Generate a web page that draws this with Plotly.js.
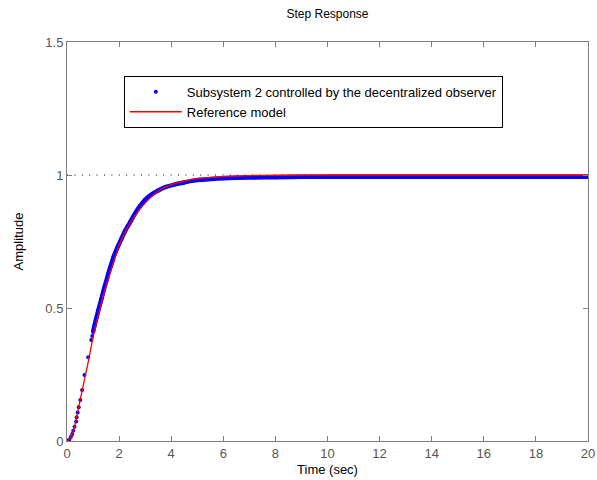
<!DOCTYPE html>
<html>
<head>
<meta charset="utf-8">
<script src="https://cdn.plot.ly/plotly-3.0.1.min.js"></script>
<style>html,body{margin:0;padding:0;background:#fff;}#chart{width:597px;height:480px;}</style>
</head>
<body>
<div id="chart"></div>
<script>
// Reference model (red line)
var refTime = [0, 0.1, 0.2, 0.3, 0.4, 0.5, 0.6, 0.7, 0.8, 0.9, 1.0, 1.2, 1.4, 1.6, 1.8, 2.0, 2.25, 2.5, 2.75, 3.0, 3.5, 4.0, 4.5, 5.0, 5.5, 6.0, 7.0, 8.0, 10, 12, 14, 16, 18, 20];
var refAmp  = [0, 0.008, 0.028, 0.058, 0.105, 0.152, 0.198, 0.245, 0.29, 0.34, 0.39, 0.47, 0.55, 0.615, 0.675, 0.735, 0.79, 0.83, 0.866, 0.895, 0.94, 0.964, 0.977, 0.986, 0.991, 0.995, 0.998, 0.999, 1.0, 1.0, 1.0, 1.0, 1.0, 1.0];

// Subsystem 2 controlled by the decentralized observer (blue dots)
var subTime = [0, 0.04, 0.09, 0.15, 0.2, 0.24, 0.29, 0.35, 0.37, 0.41, 0.45, 0.51, 0.58, 0.67, 0.81, 0.93, 0.97, 1.0, 1.07, 1.14, 1.2, 1.27, 1.33, 1.39, 1.46, 1.52, 1.59, 1.65, 1.72, 1.78, 1.84, 1.97, 2.1, 2.23, 2.42, 2.61, 2.8, 2.99, 3.25, 3.5, 3.8, 4.15, 4.5, 4.79, 5.1, 5.55, 6.0, 6.45, 7.2, 8, 9, 10, 12, 14, 16, 18, 20];
var subAmp  = [0, 0.001, 0.006, 0.016, 0.026, 0.039, 0.054, 0.073, 0.089, 0.107, 0.127, 0.154, 0.192, 0.248, 0.315, 0.38, 0.395, 0.41, 0.44, 0.467, 0.49, 0.515, 0.537, 0.56, 0.585, 0.605, 0.63, 0.65, 0.67, 0.69, 0.705, 0.735, 0.762, 0.79, 0.822, 0.855, 0.883, 0.906, 0.927, 0.942, 0.955, 0.965, 0.972, 0.978, 0.982, 0.985, 0.988, 0.99, 0.991, 0.992, 0.993, 0.993, 0.993, 0.993, 0.993, 0.993, 0.993];

// Steady-state reference line
var steadyTime = [0, 20];
var steadyAmp = [1, 1];

var xTicks = [0, 2, 4, 6, 8, 10, 12, 14, 16, 18, 20];
var yTicks = [0, 0.5, 1, 1.5];
var yTickText = ['0', '0.5', '1', '1.5'];

var denseT = [], denseY = [];
for (var i = 0; i < subTime.length; i++) {
  if (subTime[i] >= 1.0) { denseT.push(subTime[i]); denseY.push(subAmp[i]); }
}

var FONT = '"Liberation Sans", Arial, Helvetica, sans-serif';

var traces = [
  {x: steadyTime, y: steadyAmp, mode: 'lines', line: {color: '#000', width: 1, dash: '1px,6.4px'}, showlegend: false, hoverinfo: 'skip'},
  {x: denseT, y: denseY, mode: 'lines', line: {color: '#0000ff', width: 4.5, shape: 'spline', smoothing: 0.8}, showlegend: false, hoverinfo: 'skip'},
  {x: subTime, y: subAmp, mode: 'markers', marker: {color: '#0000ff', size: 4}, name: 'Subsystem 2 controlled by the decentralized observer'},
  {x: refTime, y: refAmp, mode: 'lines', line: {color: '#ff0000', width: 1.3, shape: 'spline', smoothing: 0.8}, name: 'Reference model'}
];

var axisCommon = {
  showline: true, mirror: 'ticks', linecolor: '#7f7f7f', linewidth: 1,
  ticks: 'inside', ticklen: 5, tickcolor: '#7f7f7f', showgrid: false, zeroline: false,
  tickfont: {family: FONT, size: 13, color: '#555'}
};

var layout = {
  width: 597, height: 480,
  margin: {l: 67, r: 9, t: 42, b: 39},
  paper_bgcolor: '#fff', plot_bgcolor: '#fff',
  font: {family: FONT, size: 13, color: '#000'},
  title: {text: 'Step Response', x: 0.5, xref: 'paper', y: 1 - 14/480, yref: 'container', yanchor: 'middle', font: {family: FONT, size: 12, color: '#000'}},
  xaxis: Object.assign({}, axisCommon, {range: [0, 20], tickvals: xTicks, title: {text: 'Time (sec)', standoff: 5, font: {family: FONT, size: 13, color: '#000'}}}),
  yaxis: Object.assign({}, axisCommon, {range: [0, 1.5], tickvals: yTicks, ticktext: yTickText, title: {text: 'Amplitude', standoff: 18, font: {family: FONT, size: 13, color: '#000'}}}),
  legend: {x: 0.109, y: 0.915, xanchor: 'left', yanchor: 'top', bgcolor: '#fff', bordercolor: '#000', borderwidth: 1,
           font: {family: FONT, size: 13, color: '#000'}, itemwidth: 52, tracegroupgap: 0}
};

Plotly.newPlot('chart', traces, layout, {displayModeBar: false, staticPlot: true});
</script>
</body>
</html>
